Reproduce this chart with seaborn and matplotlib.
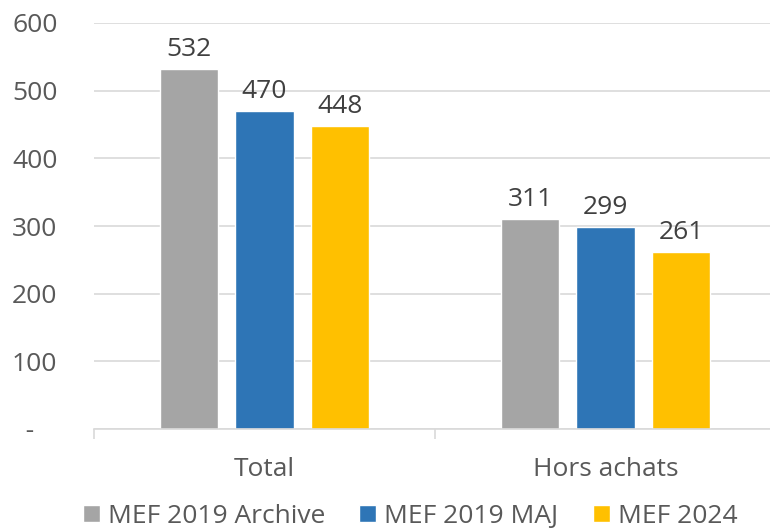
import numpy as np
import pandas as pd
import matplotlib
matplotlib.use('Agg')
import matplotlib.pyplot as plt
import seaborn as sns

categories = ['Total', 'Hors achats']
series = ['MEF 2019 Archive', 'MEF 2019 MAJ', 'MEF 2024']
archive = [532, 311]
maj = [470, 299]
mef2024 = [448, 261]
colors = ['#A5A5A5', '#2E75B6', '#FFC000']

df = pd.DataFrame({
    'categorie': categories * 3,
    'serie': [series[0]] * 2 + [series[1]] * 2 + [series[2]] * 2,
    'valeur': archive + maj + mef2024,
})

sns.set_style('white')
plt.rcParams['font.family'] = ['Open Sans', 'DejaVu Sans']
text_color = '#595959'

fig = plt.figure(figsize=(7.7, 5.28), dpi=100)
ax = fig.add_axes([94 / 770, 1 - 429 / 528, 682 / 770, 406 / 528])

sns.barplot(data=df, x='categorie', y='valeur', hue='serie', order=categories,
            hue_order=series, palette=colors, width=0.664, gap=0.22,
            saturation=1, ax=ax, legend=True)

for cont in ax.containers:
    ax.bar_label(cont, fmt='%d', padding=5, fontsize=19, color='#404040')

ax.set_ylim(0, 600)
ax.set_xlim(-0.5, 1.5)
ax.set_yticks(range(0, 601, 100))
ax.set_yticklabels(['  -'] + [str(v) for v in range(100, 601, 100)])
ax.yaxis.grid(True, color='#D9D9D9', linewidth=1.2)
ax.set_axisbelow(True)
for s in ['top', 'right', 'left']:
    ax.spines[s].set_visible(False)
ax.spines['bottom'].set_color('#D9D9D9')
ax.spines['bottom'].set_linewidth(1.2)

ax.tick_params(axis='y', length=0, labelsize=19, labelcolor=text_color, pad=59)
ax.tick_params(axis='x', which='major', length=0, labelsize=19, labelcolor=text_color, pad=20)
ax.set_xticks([-0.5, 0.5, 1.5], minor=True)
ax.tick_params(axis='x', which='minor', bottom=True, length=7, color='#D9D9D9', width=1.2)
for lab in ax.get_yticklabels():
    lab.set_horizontalalignment('left')
ax.set_xlabel('')
ax.set_ylabel('')

handles, labels = ax.get_legend_handles_labels()
ax.legend(handles, labels, loc='lower center', bbox_to_anchor=(0.5 - 25 / 682, -0.272),
          ncol=3, frameon=False, fontsize=19, labelcolor=text_color,
          handlelength=0.65, handleheight=0.65, handletextpad=0.3, columnspacing=1.3,
          borderaxespad=0)

fig.savefig('out.png', dpi=100)
